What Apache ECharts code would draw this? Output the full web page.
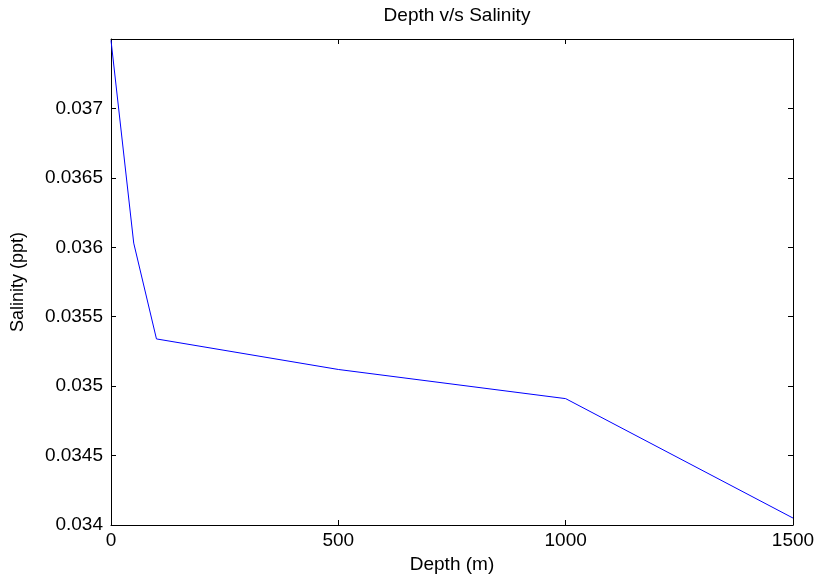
<!DOCTYPE html>
<html>
<head>
<meta charset="utf-8">
<script src="https://cdn.jsdelivr.net/npm/echarts@6/dist/echarts.min.js"></script>
<style>
  html, body { margin: 0; padding: 0; background: #fff; }
  #chart { width: 818px; height: 580px; }
</style>
</head>
<body>
<div id="chart"></div>
<script>
// depth (m) and salinity (ppt)
const depths = [0, 50, 100, 500, 1000, 1500]
const salinity = [0.03749, 0.03603, 0.03534, 0.03512, 0.03491, 0.03405]
const xTicks = [0, 500, 1000, 1500]
const yTicks = [0.034, 0.0345, 0.035, 0.0355, 0.036, 0.0365, 0.037]

const FONT = '"Liberation Sans", Arial, sans-serif'

const chart = echarts.init(document.getElementById('chart'))

// common axis look: black frame, ticks pointing inward
const frame = {
  axisLine: { show: true, onZero: false, lineStyle: { color: '#000', width: 1 } },
  axisTick: { show: true, inside: true, length: 5, lineStyle: { color: '#000' } },
  splitLine: { show: false }
}

const option = {
  animation: false,
  backgroundColor: '#fff',
  title: {
    text: 'Depth v/s Salinity',
    left: 452,
    textAlign: 'center',
    top: 1,
    textStyle: { fontFamily: FONT, fontSize: 19, fontWeight: 'normal', color: '#000' }
  },
  grid: { left: 111, right: 25, top: 39, bottom: 55 },
  xAxis: [
    {
      type: 'value',
      min: xTicks[0],
      max: xTicks[xTicks.length - 1],
      interval: xTicks[1] - xTicks[0],
      name: 'Depth (m)',
      nameLocation: 'middle',
      nameGap: 30,
      nameTextStyle: { fontFamily: FONT, fontSize: 19, color: '#000' },
      axisLabel: { fontFamily: FONT, fontSize: 19, color: '#000', margin: 6, formatter: v => String(v) },
      ...frame
    },
    {
      type: 'value',
      position: 'top',
      min: xTicks[0],
      max: xTicks[xTicks.length - 1],
      interval: xTicks[1] - xTicks[0],
      axisLabel: { show: false },
      ...frame
    }
  ],
  yAxis: [
    {
      type: 'value',
      min: yTicks[0],
      max: 0.0375,
      interval: 0.0005,
      name: 'Salinity (ppt)',
      nameLocation: 'middle',
      nameGap: 84,
      nameTextStyle: { fontFamily: FONT, fontSize: 18, color: '#000' },
      axisLabel: {
        fontFamily: FONT,
        fontSize: 19,
        color: '#000',
        margin: 8,
        showMaxLabel: false,
        formatter: v => String(+v.toFixed(4))
      },
      ...frame
    },
    {
      type: 'value',
      position: 'right',
      min: yTicks[0],
      max: 0.0375,
      interval: 0.0005,
      axisLabel: { show: false },
      ...frame
    }
  ],
  series: [
    {
      type: 'line',
      data: depths.map((d, i) => [d, salinity[i]]),
      showSymbol: false,
      symbol: 'none',
      lineStyle: { color: '#0000ff', width: 1 },
      xAxisIndex: 0,
      yAxisIndex: 0
    }
  ]
}

chart.setOption(option)
</script>
</body>
</html>
